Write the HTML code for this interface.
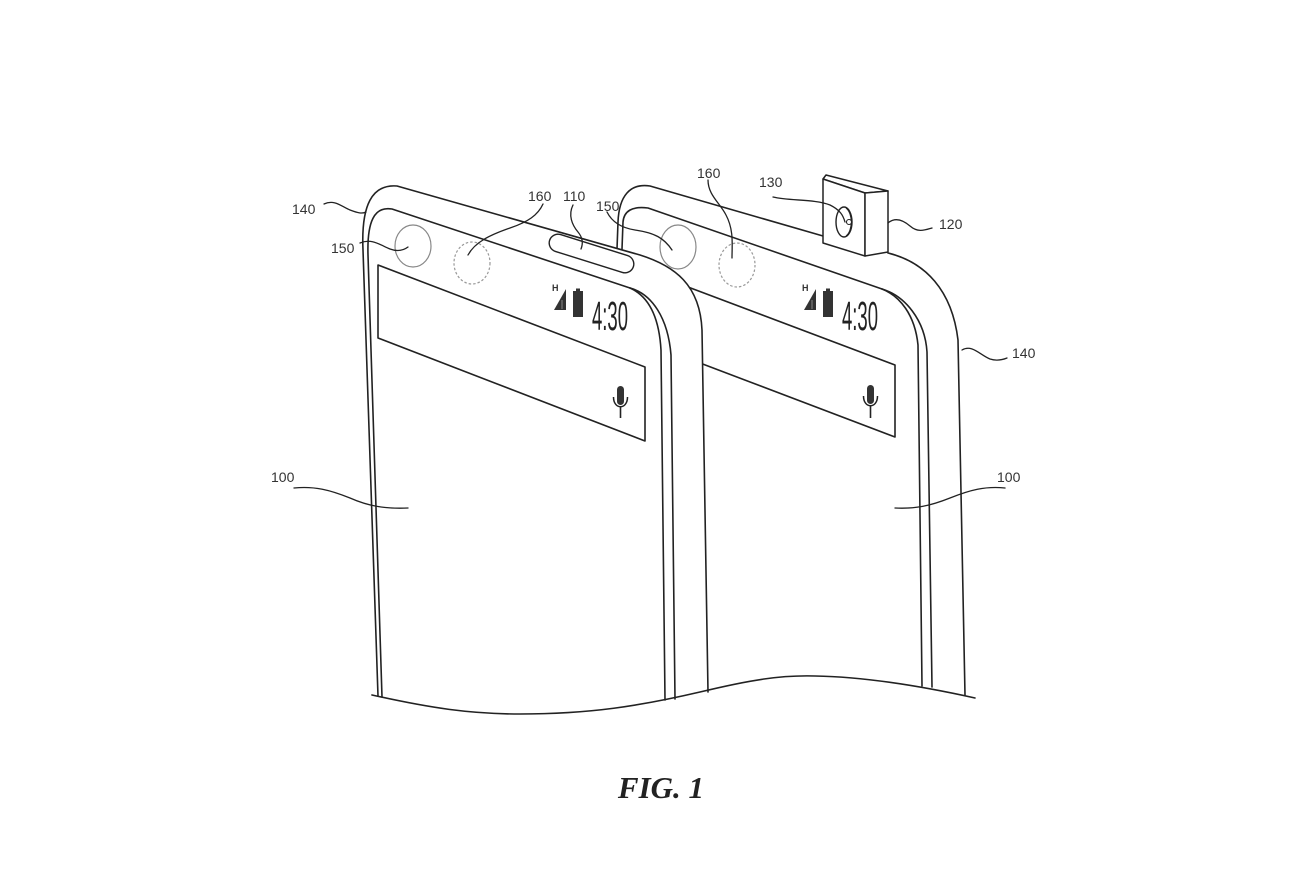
<!DOCTYPE html>
<html><head><meta charset="utf-8"><style>
html,body{margin:0;padding:0;background:#fff;}
svg{display:block;}
.l{fill:none;stroke:#222;stroke-width:1.6;stroke-linecap:round;stroke-linejoin:round;}
.t{font-family:"Liberation Sans",Arial,sans-serif;font-size:14px;fill:#333;}
.ld{fill:none;stroke:#222;stroke-width:1.3;stroke-linecap:round;}
</style></head><body>
<svg width="1310" height="873" viewBox="0 0 1310 873" xmlns="http://www.w3.org/2000/svg">
<rect width="1310" height="873" fill="#fff"/>

<!-- RIGHT PHONE -->
<path class="l" d="M617,249 L618,222 C619,196 630,183 650,186 L823,236"/>
<path class="l" d="M888,253 C925,262 952,290 958,340 L965,695"/>
<path class="l" d="M622,249 L623,222 C624,211 632,206 648,208 L882,289"/>
<path class="l" d="M882,289 C900,296 915,315 918,345 L922,686"/>
<path class="l" d="M882,289 C905,296 925,320 927,352 L932,687"/>
<!-- right search bar -->
<path class="l" d="M680,284 L895,365 L895,437 L700,363"/>

<!-- camera module -->
<polygon points="826,175 888,191 865,193 823,179" fill="#fff" stroke="#222" stroke-width="1.5" stroke-linejoin="round"/>
<polygon points="823,179 865,193 865,256 823,243" fill="#fff" stroke="#222" stroke-width="1.5" stroke-linejoin="round"/>
<polygon points="865,193 888,191 888,252 865,256" fill="#fff" stroke="#222" stroke-width="1.5" stroke-linejoin="round"/>
<ellipse cx="844" cy="222" rx="8" ry="15" fill="#fff" stroke="#222" stroke-width="1.4"/>
<path d="M846,208 C853,213 853,231 846,236" fill="none" stroke="#222" stroke-width="1.1"/>
<circle cx="849" cy="222" r="2.5" fill="#fff" stroke="#222" stroke-width="1.1"/>

<!-- LEFT PHONE fill -->
<path d="M378,696 L363,250 C361,205 372,184 397,186 L640,255 C675,266 700,285 702,330 L708,692 L708,730 L378,730 Z" fill="#fff"/>
<!-- left outer -->
<path class="l" d="M378,696 L363,250 C361,205 372,184 397,186 L640,255 C675,266 700,285 702,330 L708,692"/>
<!-- left inner -->
<path class="l" d="M382,697 L368,255 C367,222 374,206 392,209 L630,288"/>
<path class="l" d="M630,288 C648,296 659,315 661,350 L665,700"/>
<path class="l" d="M630,288 C652,294 668,318 671,355 L675,699"/>
<!-- pill 110 -->
<line x1="558" y1="243" x2="625" y2="264" stroke="#222" stroke-width="19" stroke-linecap="round"/>
<line x1="558" y1="243" x2="625" y2="264" stroke="#fff" stroke-width="16.2" stroke-linecap="round"/>
<!-- left search bar -->
<polygon class="l" points="378,265 645,367 645,441 378,338"/>

<!-- status icons & mic (left), duplicated to right -->
<g id="ic">
<text x="552" y="291" font-family="Liberation Sans,Arial,sans-serif" font-size="9" font-weight="bold" fill="#333">H</text>
<polygon points="554,310 566,289 566,310" fill="#333"/>
<line x1="562" y1="300" x2="562" y2="309" stroke="#888" stroke-width="1"/>
<rect x="573" y="291" width="10" height="26" fill="#333"/>
<rect x="576" y="288.5" width="4" height="3" fill="#333"/>
<text x="592" y="330" font-family="Liberation Sans,Arial,sans-serif" font-size="41" fill="#222" textLength="36" lengthAdjust="spacingAndGlyphs">4:30</text>
<rect x="617" y="386" width="7" height="19" rx="3.5" fill="#333"/>
<path d="M613.5,397 C613.5,410 627.5,410 627.5,397" fill="none" stroke="#222" stroke-width="1.5"/>
<line x1="620.5" y1="406" x2="620.5" y2="418" stroke="#222" stroke-width="1.6"/>
</g>
<g transform="translate(250,0)">
<text x="552" y="291" font-family="Liberation Sans,Arial,sans-serif" font-size="9" font-weight="bold" fill="#333">H</text>
<polygon points="554,310 566,289 566,310" fill="#333"/>
<line x1="562" y1="300" x2="562" y2="309" stroke="#888" stroke-width="1"/>
<rect x="573" y="291" width="10" height="26" fill="#333"/>
<rect x="576" y="288.5" width="4" height="3" fill="#333"/>
<text x="592" y="330" font-family="Liberation Sans,Arial,sans-serif" font-size="41" fill="#222" textLength="36" lengthAdjust="spacingAndGlyphs">4:30</text>
<rect x="617" y="385" width="7" height="19" rx="3.5" fill="#333"/>
<path d="M613.5,396 C613.5,409 627.5,409 627.5,396" fill="none" stroke="#222" stroke-width="1.5"/>
<line x1="620.5" y1="405" x2="620.5" y2="418" stroke="#222" stroke-width="1.6"/>
</g>

<!-- sensor circles -->
<ellipse cx="413" cy="246" rx="18" ry="21" fill="none" stroke="#888" stroke-width="1.2"/>
<ellipse cx="472" cy="263" rx="18" ry="21" fill="none" stroke="#999" stroke-width="1.2" stroke-dasharray="2.5,2"/>
<ellipse cx="678" cy="247" rx="18" ry="22" fill="none" stroke="#888" stroke-width="1.2"/>
<ellipse cx="737" cy="265" rx="18" ry="22" fill="none" stroke="#999" stroke-width="1.2" stroke-dasharray="2.5,2"/>

<!-- bottom wave -->
<path class="l" d="M372,695 C430,708 470,714 520,714 C590,714 640,706 700,692 C750,680 780,675 815,676 C870,677 930,688 975,698"/>

<!-- leaders -->
<path class="ld" d="M324,204 C335,199 342,207 350,210 C358,213 362,214 366,212"/>
<path class="ld" d="M360,243 C372,238 380,245 390,249 C398,252 404,250 408,247"/>
<path class="ld" d="M543,204 C538,215 528,222 510,228 C490,235 475,242 468,255"/>
<path class="ld" d="M573,205 C568,215 572,225 578,232 C583,238 583,244 581,249"/>
<path class="ld" d="M607,212 C612,222 622,228 635,230 C655,233 664,238 672,250"/>
<path class="ld" d="M708,180 C708,195 720,203 726,215 C734,230 732,245 732,258"/>
<path class="ld" d="M773,197 C790,201 815,199 830,205 C840,210 843,215 845,222"/>
<path class="ld" d="M888,223 C895,217 903,220 910,226 C918,233 925,230 932,228"/>
<path class="ld" d="M962,350 C972,344 980,355 990,359 C996,361 1002,360 1007,358"/>
<path class="ld" d="M294,488 C315,486 330,490 350,498 C368,506 385,509 408,508"/>
<path class="ld" d="M1005,488 C985,486 970,490 950,498 C930,506 915,509 895,508"/>

<!-- labels -->
<text class="t" x="292" y="214">140</text>
<text class="t" x="331" y="253">150</text>
<text class="t" x="528" y="201">160</text>
<text class="t" x="563" y="201">110</text>
<text class="t" x="596" y="211">150</text>
<text class="t" x="697" y="178">160</text>
<text class="t" x="759" y="187">130</text>
<text class="t" x="939" y="229">120</text>
<text class="t" x="1012" y="358">140</text>
<text class="t" x="271" y="482">100</text>
<text class="t" x="997" y="482">100</text>

<text x="661" y="798" text-anchor="middle" font-family="Liberation Serif,serif" font-size="31" font-weight="bold" font-style="italic" fill="#222">FIG. 1</text>
</svg>
</body></html>
